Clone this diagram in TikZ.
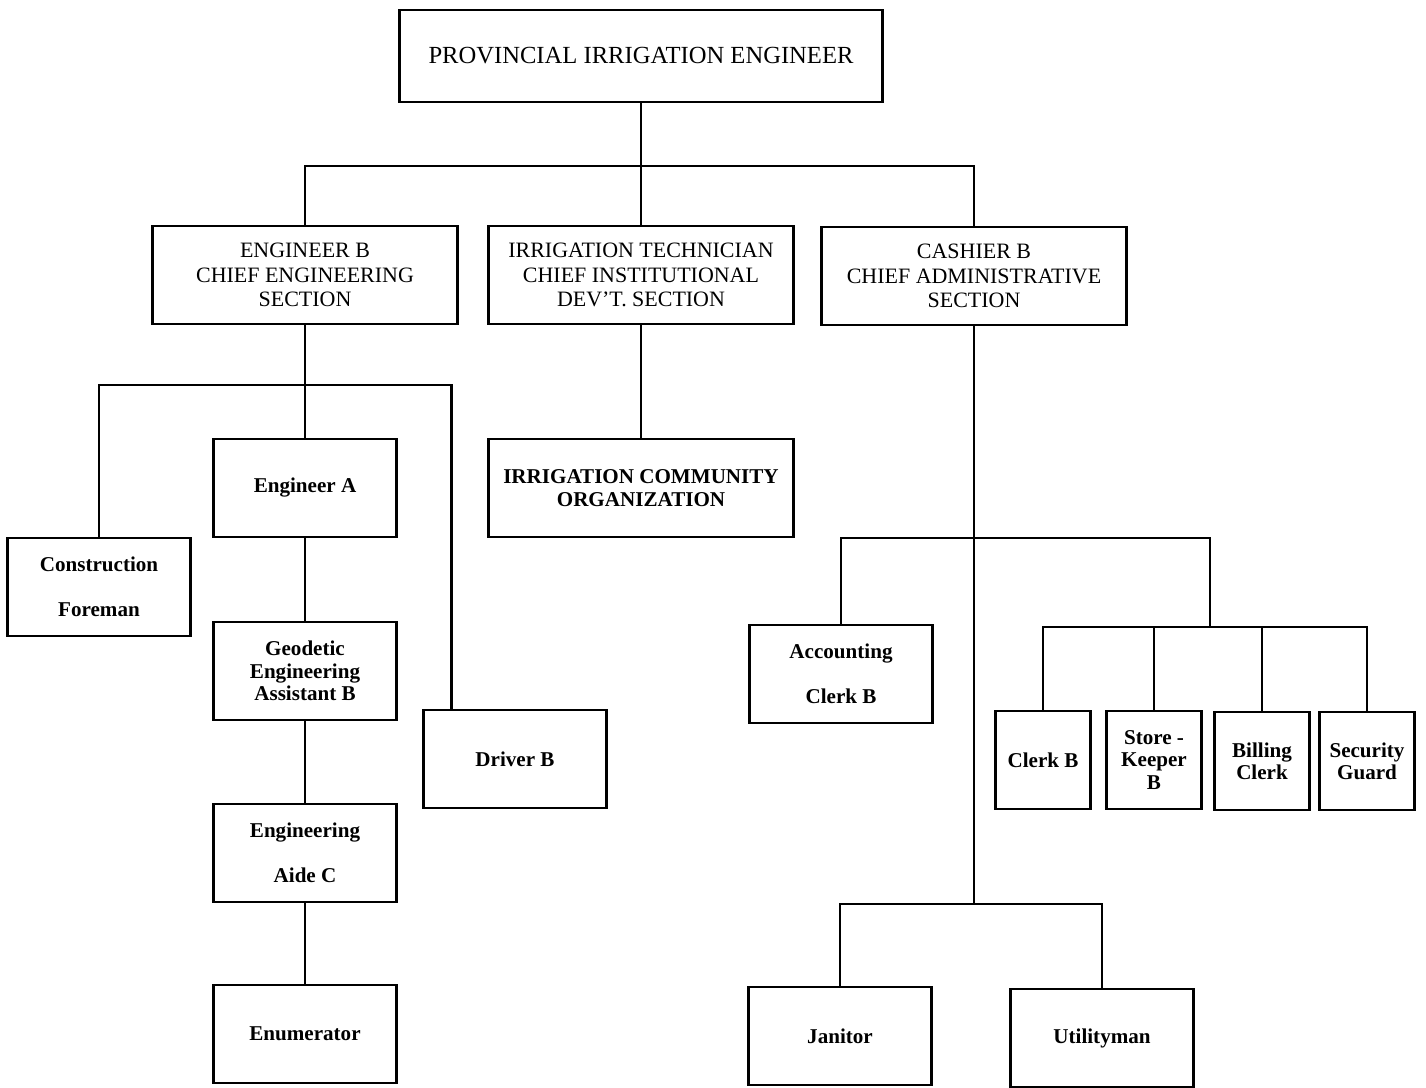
\documentclass[tikz,border=0pt]{standalone}
\usepackage{fontspec}
\setmainfont{Liberation Serif}
\usetikzlibrary{positioning}

\begin{document}
\begin{tikzpicture}[x=0.02cm,y=-0.02cm,line width=1.2pt,
    box/.style={draw,inner sep=0pt,align=center,minimum height=1.95cm},
    chief/.style={box,minimum width=6.1cm,font=\fontsize{12.5}{14}\selectfont},
    staff/.style={box,minimum width=3.66cm,font=\bfseries\fontsize{12}{12.8}\selectfont},
    twoline/.style={staff,font=\bfseries\fontsize{12}{25.6}\selectfont},
    narrow/.style={box,minimum width=1.9cm,font=\bfseries\fontsize{12}{12.6}\selectfont}]
  \useasboundingbox (0,0) rectangle (1426,1088);
  \node[box,minimum width=9.66cm,minimum height=1.84cm,font=\fontsize{14}{16}\selectfont]
    (pie) at (641,56) {PROVINCIAL IRRIGATION ENGINEER};
  % section chiefs
  \node[chief] (engb) at (305,275) {ENGINEER B\\CHIEF ENGINEERING\\SECTION};
  \node[chief] (irrt) at (641,275) {IRRIGATION TECHNICIAN\\CHIEF INSTITUTIONAL\\DEV'T. SECTION};
  \node[chief] (cashb) at (974,276) {CASHIER B\\CHIEF ADMINISTRATIVE\\SECTION};
  % engineering section
  \node[staff] (enga) at (305,488) {Engineer A};
  \node[twoline] (cfore) at (99,587) {Construction\\Foreman};
  \node[staff] (geod) at (305,671) {Geodetic\\Engineering\\Assistant B};
  \node[staff] (drvb) at (515,759) {Driver B};
  \node[twoline] (aidec) at (305,853) {Engineering\\Aide C};
  \node[staff] (enum) at (305,1034) {Enumerator};
  % institutional section
  \node[chief,font=\bfseries\fontsize{12}{13}\selectfont] (ico) at (641,488)
    {IRRIGATION COMMUNITY\\ORGANIZATION};
  % administrative section
  \node[twoline] (accb) at (841,674) {Accounting\\Clerk B};
  \node[narrow] (clerkb) at (1043,760) {Clerk B};
  \node[narrow] (storek) at (1154,760) {Store -\\Keeper\\B};
  \node[narrow] (billc) at (1262,761) {Billing\\Clerk};
  \node[narrow] (secg) at (1367,761) {Security\\Guard};
  \node[staff] (jan) at (840,1036) {Janitor};
  \node[staff] (util) at (1102,1038) {Utilityman};

  \coordinate (topbus) at (641,166);
  \coordinate (engbus) at (305,385);
  \coordinate (adminbus) at (974,538);
  \coordinate (storebus) at (1210,627);
  \coordinate (servbus) at (974,904);

  \draw (pie) -- (topbus);
  \draw (engb.north) |- (topbus) -| (cashb.north);
  \draw (topbus) -- (irrt);
  \draw (engb) -- (enga);
  \draw (cfore.north) |- (engbus) -| ([xshift=0.58cm]drvb.north west);
  \draw (enga) -- (geod) -- (aidec) -- (enum);
  \draw (irrt) -- (ico);
  \draw (cashb) -- (servbus);
  \draw (accb.north) |- (adminbus) -| (storebus);
  \draw (clerkb.north) |- (storebus) -| (secg.north);
  \draw (storek) -- (storek |- storebus);
  \draw (billc) -- (billc |- storebus);
  \draw (jan.north) |- (servbus) -| (util.north);
\end{tikzpicture}
\end{document}
